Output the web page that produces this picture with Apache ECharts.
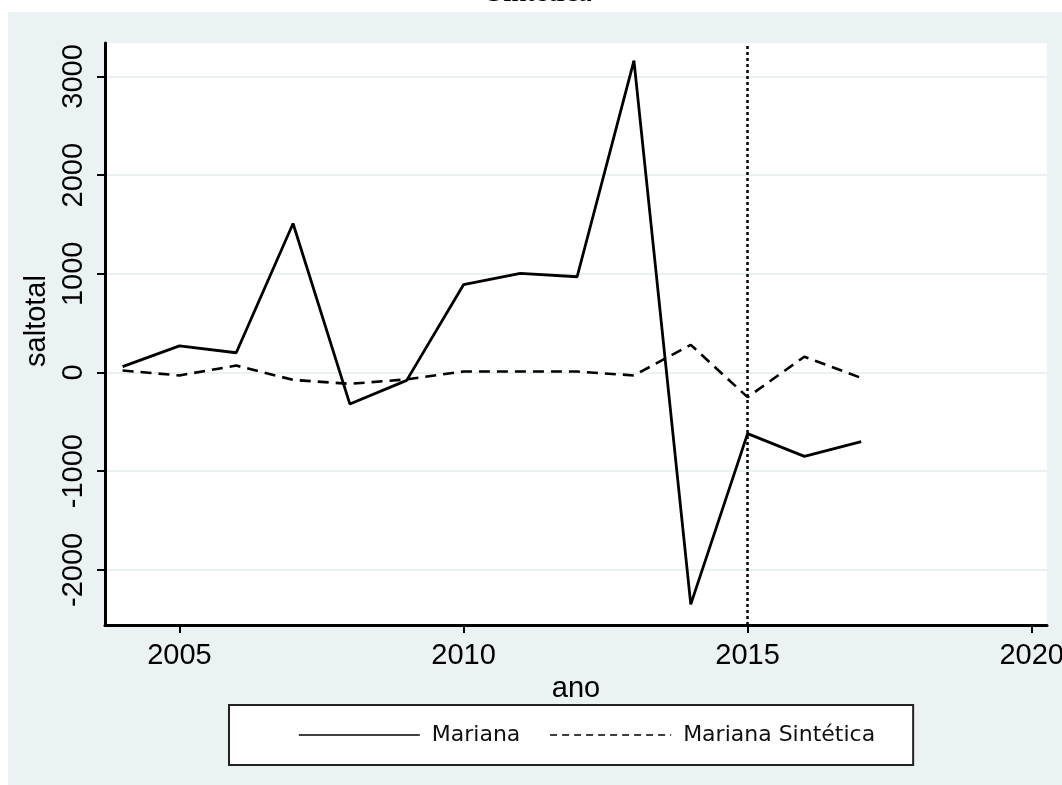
<!DOCTYPE html>
<html>
<head>
<meta charset="utf-8">
<script src="https://cdn.jsdelivr.net/npm/echarts@6/dist/echarts.min.js"></script>
<style>
  html, body { margin: 0; padding: 0; background: #ffffff; }
  #chart { width: 1062px; height: 785px; }
</style>
</head>
<body>
<div id="chart"></div>
<script>
// Annual balance (saltotal) for Mariana and its synthetic control
const years = [2004, 2005, 2006, 2007, 2008, 2009, 2010, 2011, 2012, 2013, 2014, 2015, 2016, 2017];
const mariana = [60, 270, 200, 1510, -320, -80, 890, 1005, 970, 3160, -2350, -620, -850, -700];
const marianaSintetica = [20, -30, 70, -75, -115, -70, 10, 10, 10, -30, 280, -250, 160, -55];

const yTicks = [-2000, -1000, 0, 1000, 2000, 3000];
const xTicks = [2005, 2010, 2015, 2020];
const treatmentYear = 2015;

const seriesNames = ['Mariana', 'Mariana Sintética'];
const yName = 'saltotal';
const xName = 'ano';
const captionTail = 'Sintética';

const pairs = (vals) => years.map((y, i) => [y, vals[i]]);
const plain = (v) => String(v);

const axisFont = 'Liberation Sans, Arial, sans-serif';
const panelColor = '#EAF2F3';

const chart = echarts.init(document.getElementById('chart'), null, { renderer: 'canvas' });

chart.setOption({
  animation: false,
  backgroundColor: '#ffffff',
  graphic: [
    {
      type: 'rect',
      z: -10,
      shape: { x: 8, y: 12, width: 1054, height: 773 },
      style: { fill: panelColor }
    },
    {
      type: 'text',
      z: -20,
      x: 539,
      y: 8,
      style: {
        text: captionTail,
        font: '30px "Liberation Serif", "Times New Roman", serif',
        fill: '#000',
        align: 'center',
        verticalAlign: 'bottom'
      }
    }
  ],
  grid: {
    left: 105,
    right: 15,
    top: 43,
    bottom: 160,
    outerBoundsMode: 'none',
    containLabel: false,
    show: true,
    backgroundColor: '#ffffff',
    borderWidth: 0
  },
  xAxis: {
    type: 'value',
    min: 2003.69,
    max: 2020.27,
    name: xName,
    nameLocation: 'middle',
    nameGap: 37,
    nameTextStyle: { fontFamily: axisFont, fontSize: 29, color: '#000' },
    axisLine: { show: true, onZero: false, lineStyle: { color: '#000', width: 3 } },
    axisTick: { show: true, length: 8, customValues: xTicks, lineStyle: { color: '#000', width: 2 } },
    axisLabel: { customValues: xTicks, formatter: plain, margin: 16, fontFamily: axisFont, fontSize: 29, color: '#000' },
    splitLine: { show: false }
  },
  yAxis: {
    type: 'value',
    min: -2559,
    max: 3339,
    name: yName,
    nameLocation: 'middle',
    nameRotate: 90,
    nameGap: 48,
    nameTextStyle: { fontFamily: axisFont, fontSize: 29, color: '#000', padding: [0, 0, 0, 26] },
    axisLine: { show: true, lineStyle: { color: '#000', width: 3 } },
    axisTick: { show: true, length: 8, customValues: yTicks, lineStyle: { color: '#000', width: 2 } },
    axisLabel: { customValues: yTicks, formatter: plain, rotate: 90, margin: 17, fontFamily: axisFont, fontSize: 29, color: '#000' },
    splitLine: { show: true, lineStyle: { color: '#E2ECEE', width: 1.5 } }
  },
  legend: {
    left: 229,
    top: 705,
    orient: 'horizontal',
    backgroundColor: '#ffffff',
    borderColor: '#222',
    borderWidth: 2,
    borderRadius: 0,
    padding: [19, 38, 19, 69],
    itemWidth: 121,
    itemHeight: 24,
    itemGap: 29,
    textStyle: {
      fontFamily: '"DejaVu Sans", Verdana, sans-serif',
      fontSize: 22,
      color: '#111',
      padding: [0, 0, 0, 7]
    },
    data: [
      {
        name: seriesNames[0],
        itemStyle: { color: 'rgba(0,0,0,0)', borderWidth: 0, opacity: 0 },
        lineStyle: { width: 1.6, type: 'solid', color: '#000' }
      },
      {
        name: seriesNames[1],
        itemStyle: { color: 'rgba(0,0,0,0)', borderWidth: 0, opacity: 0 },
        lineStyle: { width: 1.6, type: [7, 5], color: '#000' }
      }
    ]
  },
  series: [
    {
      name: seriesNames[0],
      type: 'line',
      data: pairs(mariana),
      symbol: 'none',
      lineStyle: { color: '#000', width: 2.8, type: 'solid' },
      itemStyle: { color: '#000' },
      markLine: {
        silent: true,
        symbol: ['none', 'none'],
        label: { show: false },
        lineStyle: { color: '#000', width: 2.5, type: [3, 3] },
        data: [{ xAxis: treatmentYear }]
      }
    },
    {
      name: seriesNames[1],
      type: 'line',
      data: pairs(marianaSintetica),
      symbol: 'none',
      lineStyle: { color: '#000', width: 2.6, type: [11, 7] },
      itemStyle: { color: '#000' }
    }
  ]
});
</script>
</body>
</html>
